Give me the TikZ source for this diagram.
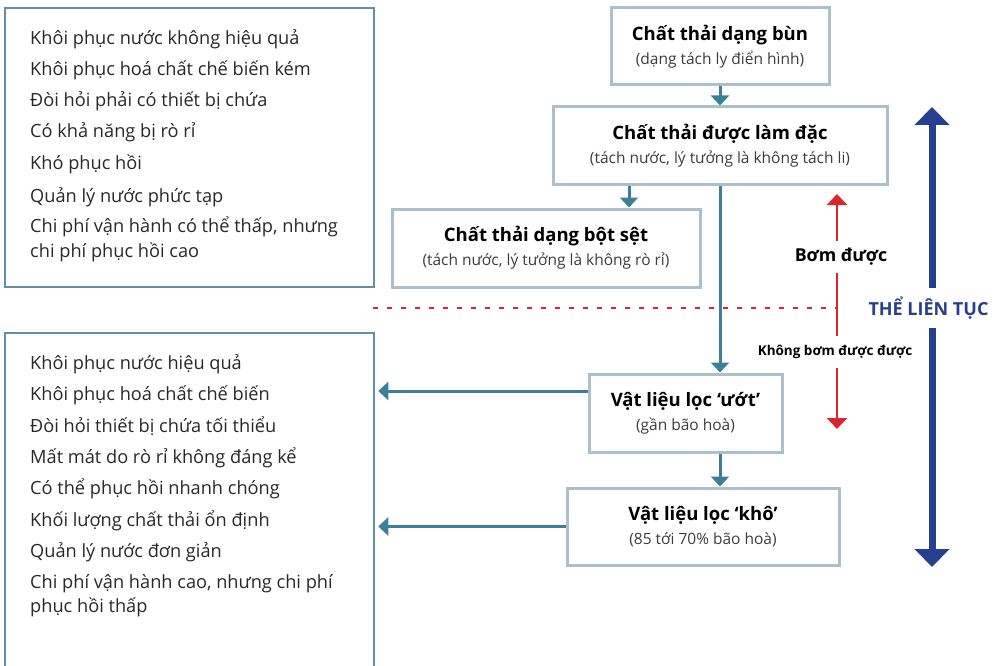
\documentclass[tikz,border=0pt]{standalone}
\usepackage{fontspec}
\setmainfont{Open Sans}
\usetikzlibrary{arrows.meta}
\definecolor{flowteal}{RGB}{58,128,152}
\definecolor{boxgrey}{RGB}{170,192,204}
\definecolor{listblue}{RGB}{100,143,165}
\definecolor{pumpred}{RGB}{218,37,46}
\definecolor{stateblue}{RGB}{38,64,143}
\definecolor{itemdark}{RGB}{40,40,40}
\definecolor{subgrey}{RGB}{60,60,60}
\newcommand{\boxtitle}[1]{{\bfseries\fontsize{18.5}{24}\selectfont\color{black}#1}}
\begin{document}
\begin{tikzpicture}[x=1pt,y=-1pt,
    box/.style={draw=boxgrey, line width=3pt, inner sep=0pt, align=center,
        text=subgrey, font=\fontsize{15.5}{24}\selectfont},
    listbox/.style={draw=listblue, line width=2.5pt, inner sep=0pt},
    item/.style={anchor=base west, inner sep=0pt, text=itemdark,
        font=\fontsize{18.2}{22}\selectfont},
    flow/.style={draw=flowteal, line width=3pt, -{Triangle[width=18pt,length=10pt]}},
    pump/.style={draw=pumpred, line width=2.5pt},
    pumptip/.style={pump, -{Triangle[width=20pt,length=11pt]}},
    pumplbl/.style={inner sep=0pt, minimum height=31pt, font=\bfseries\fontsize{17.8}{20}\selectfont},
    boundary/.style={draw=pumpred, line width=2.5pt, dash pattern=on 5pt off 9pt},
    state/.style={draw=stateblue, line width=7pt, -{Triangle[width=34pt,length=18pt]}}]
\clip (0,0) rectangle (999,666); %page size of the reference
% the two lists
\node[listbox, minimum width=369, minimum height=279] (poor) at (189.5,147.5) {};
\node[listbox, minimum width=369, minimum height=367] (good) at (189.5,516.5) {};
\foreach \t/\y [count=\i] in {Khôi phục nước không hiệu quả/45, Khôi phục hoá chất chế biến kém/76,
    Đòi hỏi phải có thiết bị chứa/107, Có khả năng bị rò rỉ/138, Khó phục hồi/170,
    Quản lý nước phức tạp/202, {Chi phí vận hành có thể thấp, nhưng}/233, chi phí phục hồi cao/257}{
    \node[item] (p\i) at (30,\y) {\t};
}
\foreach \t/\y [count=\i] in {Khôi phục nước hiệu quả/369, Khôi phục hoá chất chế biến/400,
    Đòi hỏi thiết bị chứa tối thiểu/432, Mất mát do rò rỉ không đáng kể/463,
    Có thể phục hồi nhanh chóng/494, Khối lượng chất thải ổn định/526,
    Quản lý nước đơn giản/557, {Chi phí vận hành cao, nhưng chi phí}/588, phục hồi thấp/612}{
    \node[item] (g\i) at (30,\y) {\t};
}
% waste states
\node[box, minimum width=218, minimum height=77] (bun) at (720,46.5)
    {\boxtitle{Chất thải dạng bùn}\\(dạng tách ly điển hình)};
\node[box, minimum width=334, minimum height=78] (lamdac) at (720,146)
    {\boxtitle{Chất thải được làm đặc}\\(tách nước, lý tưởng là không tách li)};
\node[box, minimum width=308, minimum height=78] (botset) at (546,248)
    {\boxtitle{Chất thải dạng bột sệt}\\(tách nước, lý tưởng là không rò rỉ)};
\node[box, minimum width=193, minimum height=78] (uot) at (685.5,413)
    {\boxtitle{Vật liệu lọc ‘ướt’}\\(gần bão hoà)};
\node[box, minimum width=272, minimum height=77] (kho) at (703,526.5)
    {\boxtitle{Vật liệu lọc ‘khô’}\\(85 tới 70\% bão hoà)};
% pumpable limit
\coordinate (dashstart) at (373,308);
\coordinate (uptip) at (837,194);
\coordinate (downtip) at (837,429);
\draw[boundary] (dashstart) -- (dashstart -| uptip);
\node[pumplbl] (bom) at (841,257) {Bơm được};
\node[pumplbl, font=\bfseries\fontsize{13.5}{15}\selectfont] (khong) at (835,352) {Không bơm được được};
\draw[pumptip] (uptip |- bom.north) -- (uptip);
\draw[pump] (uptip |- bom.south) -- (uptip |- khong.north);
\draw[pumptip] (downtip |- khong.south) -- (downtip);
% continuum
\node[inner sep=0pt, minimum height=39pt, text=stateblue, font=\bfseries\fontsize{18}{20}\selectfont]
    (lientuc) at (928.5,308) {THỂ LIÊN TỤC};
\coordinate (toptip) at (932,107);
\coordinate (bottip) at (932,567);
\draw[state] (toptip |- lientuc.north) -- (toptip);
\draw[state] (toptip |- lientuc.south) -- (bottip);
% flow
\coordinate (uotout) at ([yshift=22pt]uot.west);
\draw[flow] (bun) -- (lamdac);
\draw[flow] ([xshift=-91pt]lamdac.south) -- ([xshift=-91pt]lamdac.south |- botset.north);
\draw[flow] (lamdac.south) -- (lamdac.south |- uot.north);
\draw[flow] (lamdac.south |- uot.south) -- (lamdac.south |- kho.north);
\draw[flow, shorten >=3pt] (uotout) -- (uotout -| good.east);
\draw[flow, shorten >=3pt] (kho.west) -- (kho.west -| good.east);
\end{tikzpicture}
\end{document}
